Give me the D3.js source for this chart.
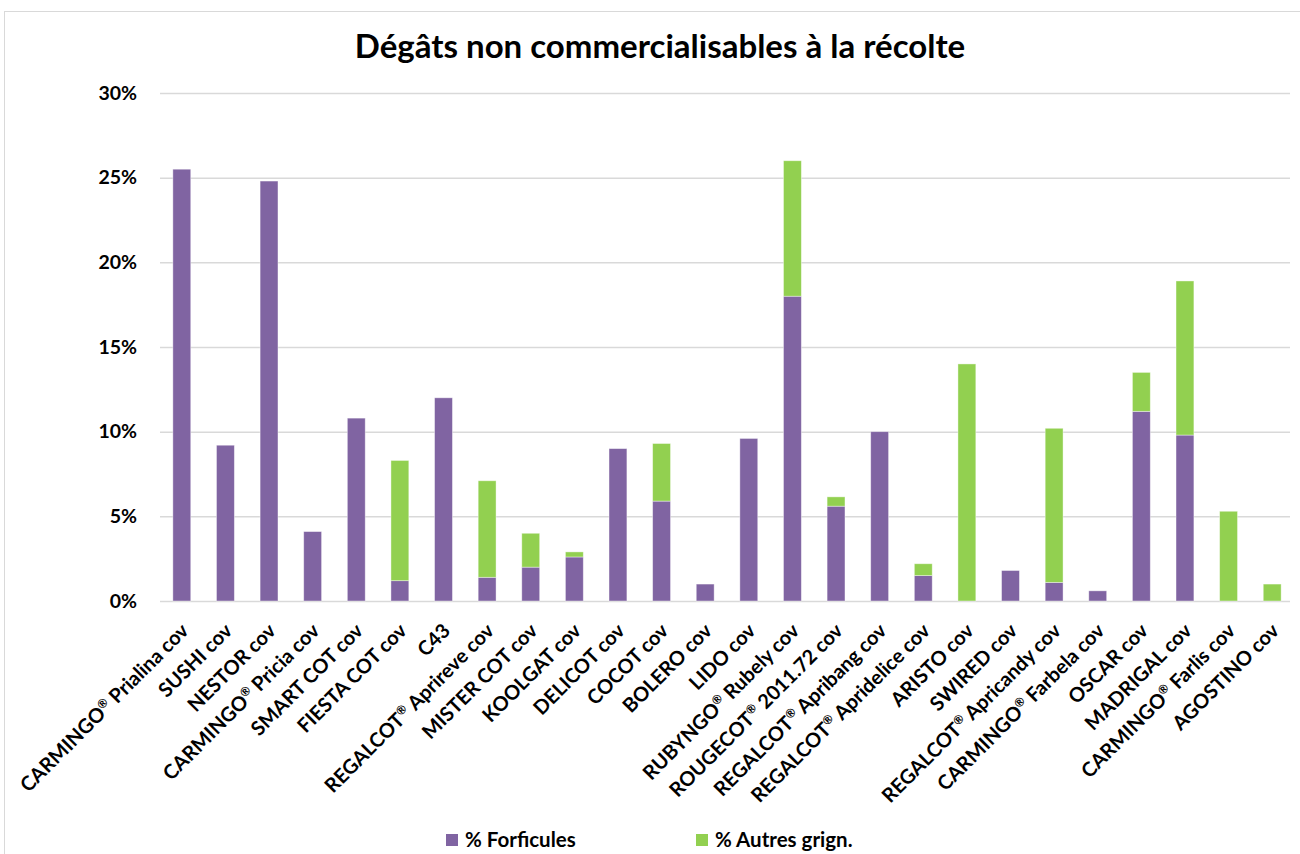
<!DOCTYPE html>
<html>
<head>
<meta charset="utf-8">
<script src="https://cdn.jsdelivr.net/npm/d3@7"></script>
<style>
  body { margin: 0; background: #fff; }
  text { font-family: Lato, "Open Sans", sans-serif; font-weight: bold; fill: #000; }
</style>
</head>
<body>
<div id="chart"></div>
<script>
// data (percent)
const categories = ["CARMINGO® Prialina cov", "SUSHI cov", "NESTOR cov", "CARMINGO® Pricia cov", "SMART COT cov",
  "FIESTA COT cov", "C43", "REGALCOT® Aprireve cov", "MISTER COT cov", "KOOLGAT cov", "DELICOT cov", "COCOT cov",
  "BOLERO cov", "LIDO cov", "RUBYNGO® Rubely cov", "ROUGECOT® 2011.72 cov", "REGALCOT® Apribang cov",
  "REGALCOT® Apridelice cov", "ARISTO cov", "SWIRED cov", "REGALCOT® Apricandy cov", "CARMINGO® Farbela cov",
  "OSCAR cov", "MADRIGAL cov", "CARMINGO® Farlis cov", "AGOSTINO cov"]
const forficules = [25.5, 9.2, 24.8, 4.1, 10.8, 1.2, 12.0, 1.4, 2.0, 2.6, 9.0, 5.9, 1.0, 9.6, 18.0, 5.6, 10.0, 1.5, 0, 1.8, 1.1, 0.6, 11.2, 9.8, 0, 0]
const autres =     [0, 0, 0, 0, 0, 7.1, 0, 5.7, 2.0, 0.3, 0, 3.4, 0, 0, 8.0, 0.55, 0, 0.7, 14.0, 0, 9.1, 0, 2.3, 9.1, 5.3, 1.0]
const seriesNames = ["% Forficules", "% Autres grign."]
const yTicks = [0, 5, 10, 15, 20, 25, 30]

const W = 1300, H = 854
const MARGIN = {TOP: 93, RIGHT: 6, BOTTOM: 253, LEFT: 160}
const colors = ["#8064A2", "#92D050"]

const svg = d3.select("#chart").append("svg")
  .attr("width", W).attr("height", H)

// chart frame
svg.append("rect")
  .attr("x", 4.5).attr("y", 11.5)
  .attr("width", W + 10).attr("height", H + 10)
  .attr("fill", "none").attr("stroke", "#d9d9d9")

svg.append("text")
  .attr("x", 660).attr("y", 58)
  .attr("text-anchor", "middle")
  .attr("font-size", "33px")
  .text("Dégâts non commercialisables à la récolte")

const x = d3.scaleBand()
  .domain(categories)
  .range([MARGIN.LEFT, W - MARGIN.RIGHT])
  .paddingInner(0.59).paddingOuter(0.295)

const y = d3.scaleLinear()
  .domain([0, 30])
  .range([H - MARGIN.BOTTOM, MARGIN.TOP])

// gridlines
svg.append("g")
  .selectAll("line")
  .data(yTicks)
  .join("line")
    .attr("x1", MARGIN.LEFT).attr("x2", 1290)
    .attr("y1", d => y(d) + 0.5).attr("y2", d => y(d) + 0.5)
    .attr("stroke", "#d9d9d9").attr("stroke-width", 1.5)

svg.append("g")
  .selectAll("text")
  .data(yTicks)
  .join("text")
    .attr("x", 137)
    .attr("y", d => y(d))
    .attr("dy", "0.35em")
    .attr("text-anchor", "end")
    .attr("font-size", "19.5px")
    .text(d => d + "%")

// stacked bars
const rows = categories.map((c, i) => ({cat: c, f: forficules[i], a: autres[i]}))
const stacked = d3.stack().keys(["f", "a"])(rows)

svg.append("g")
  .selectAll("g")
  .data(stacked)
  .join("g")
    .attr("fill", (d, i) => colors[i])
  .selectAll("rect")
  .data(d => d.filter(s => s[1] - s[0] > 0))
  .join("rect")
    .attr("x", d => x(d.data.cat))
    .attr("width", x.bandwidth())
    .attr("y", d => y(d[1]))
    .attr("height", d => y(d[0]) - y(d[1]))
    .attr("stroke", "#ffffff").attr("stroke-opacity", 0.5).attr("stroke-width", 0.8)

// category labels, ® drawn as a small superscript
const labels = svg.append("g")
  .selectAll("text")
  .data(categories)
  .join("text")
    .attr("text-anchor", "end")
    .attr("font-size", "20px")
    .attr("transform", d => `translate(${x(d) + x.bandwidth() / 2 + 8}, ${H - MARGIN.BOTTOM + 31}) rotate(-45)`)

labels.each(function(d) {
  const t = d3.select(this)
  const parts = d.split("®")
  t.append("tspan").text(parts[0])
  if (parts.length > 1) {
    t.append("tspan").attr("font-size", "12px").attr("dy", -7).text("®")
    t.append("tspan").attr("dy", 7).text(parts[1])
  }
})

// legend
const legend = svg.append("g")
  .selectAll("g")
  .data(seriesNames)
  .join("g")
    .attr("transform", (d, i) => `translate(${446 + i * 250}, 834)`)

legend.append("rect")
  .attr("width", 12).attr("height", 12)
  .attr("fill", (d, i) => colors[i])

legend.append("text")
  .attr("x", 19).attr("y", 6)
  .attr("dy", "0.35em")
  .attr("font-size", "20.5px")
  .text(d => d)
</script>
</body>
</html>
